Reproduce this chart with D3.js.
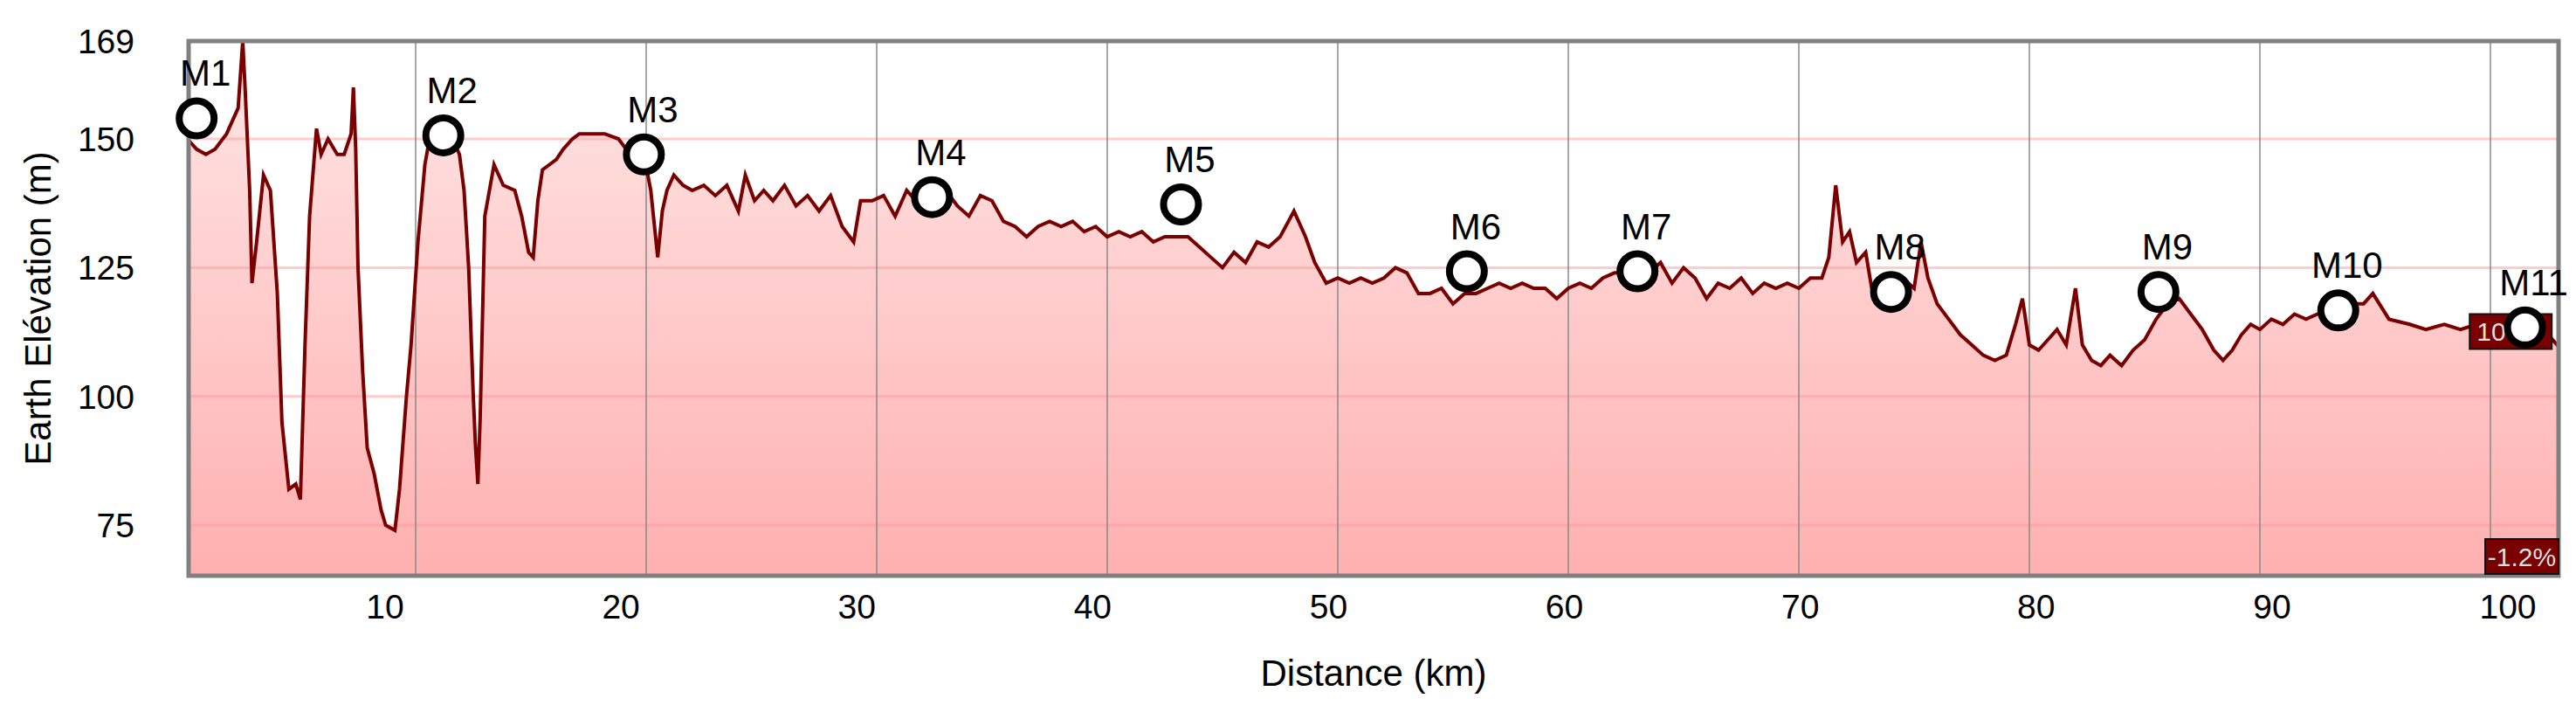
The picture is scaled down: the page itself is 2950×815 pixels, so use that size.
<!DOCTYPE html>
<html>
<head>
<meta charset="utf-8">
<script src="https://cdn.jsdelivr.net/npm/d3@7"></script>
<style>
  body { margin: 0; background: #fff; }
  text { font-family: Arial, "Liberation Sans", sans-serif; }
</style>
</head>
<body>
<svg id="chart" width="2950" height="815"></svg>
<script>
// Elevation profile (km, m)
const distKm = [0.1,0.5,0.9,1.3,1.8,2.1,2.3,2.5,2.6,2.8,2.9,3.1,3.4,3.7,4.0,4.2,4.5,4.8,5.0,5.2,5.4,5.7,5.9,6.2,6.6,6.9,7.2,7.3,7.4,7.5,7.7,7.9,8.2,8.5,8.7,9.1,9.3,9.6,9.8,10.1,10.4,10.6,11.0,11.4,11.6,11.9,12.1,12.3,12.5,12.6,12.7,12.8,13.0,13.4,13.8,14.3,14.6,14.9,15.1,15.3,15.5,15.8,16.1,16.4,16.8,17.1,17.6,18.2,18.8,19.3,19.9,20.2,20.5,20.7,20.9,21.2,21.6,22.0,22.5,23.0,23.5,24.0,24.3,24.7,25.1,25.5,26.0,26.5,27.0,27.5,28.0,28.5,29.0,29.3,29.8,30.3,30.8,31.3,31.9,32.5,33.0,33.5,34.0,34.5,35.0,35.5,36.0,36.5,37.0,37.5,38.0,38.5,39.0,39.5,40.0,40.5,41.0,41.5,42.0,42.5,43.0,43.5,44.0,44.5,45.0,45.5,46.0,46.5,47.0,47.5,48.1,48.6,49.0,49.5,50.0,50.5,51.0,51.5,52.0,52.5,53.0,53.5,54.0,54.5,55.0,55.5,56.0,56.5,57.0,57.5,58.0,58.5,59.0,59.5,60.0,60.5,61.0,61.5,62.0,62.5,63.0,63.5,64.0,64.5,65.0,65.5,66.0,66.5,67.0,67.5,68.0,68.5,69.0,69.5,70.0,70.5,71.0,71.3,71.6,71.9,72.2,72.5,72.9,73.2,73.6,74.0,74.5,75.0,75.3,75.6,76.0,76.5,77.0,77.5,78.0,78.5,79.0,79.4,79.7,80.0,80.4,80.8,81.2,81.6,82.0,82.3,82.7,83.1,83.5,84.0,84.5,85.0,85.5,86.0,86.5,87.0,87.5,88.0,88.4,88.8,89.2,89.6,90.0,90.5,91.0,91.5,92.0,92.5,93.0,93.5,94.0,94.5,94.9,95.6,96.5,97.2,98.0,98.7,99.4,100.2,100.6,101.2,101.8,102.5,103.1,103.7];
const elevM = [150,148,147,148,151,154,156,169,160,140,122,130,143,140,120,95,82,83,80,110,135,152,147,150,147,147,151,160,148,125,105,90,85,78,75,74,82,100,110,130,145,150,151,150,150,147,140,125,100,90,83,96,135,145,141,140,135,128,127,138,144,145,146,148,150,151,151,151,150,147,147,140,127,136,140,143,141,140,141,139,141,136,143,138,140,138,141,137,139,136,139,133,130,138,138,139,135,140,137,138,140,137,135,139,138,134,133,131,133,134,133,134,132,133,131,132,131,132,130,131,131,131,129,127,125,128,126,130,129,131,136,131,126,122,123,122,123,122,123,125,124,120,120,121,118,120,120,121,122,121,122,121,121,119,121,122,121,123,124,124,125,124,126,122,125,123,119,122,121,123,120,122,121,122,121,123,123,127,141,130,132,126,128,120,120,119,123,121,130,123,118,115,112,110,108,107,108,114,119,110,109,111,113,110,121,110,107,106,108,106,109,111,115,118,119,116,113,109,107,109,112,114,113,115,114,116,115,116,116,117,118,118,120,115,114,113,114,113,114,114,115,114,113,112,109,107];

// Markers
const markerNames = ["M1","M2","M3","M4","M5","M6","M7","M8","M9","M10","M11"];
const markerKm = [0.5,11.2,19.9,32.4,43.2,55.6,63.0,74.0,85.6,93.4,101.5];
const markerElev = [154,150.7,147,138.7,137.3,124.3,124.3,120.3,120.3,116.7,113.4];

const xTicks = [10,20,30,40,50,60,70,80,90,100];
const yTicks = [75,100,125,150,169];

const margin = { left: 216, right: 20, top: 47, bottom: 156 };
const W = 2950, H = 815;
const iw = W - margin.left - margin.right;
const ih = H - margin.top - margin.bottom;

const svg = d3.select('#chart');
const g = svg.append('g').attr('transform', `translate(${margin.left},${margin.top})`);

// grid/data scale and the (slightly differently spaced) tick-label scale
const x = d3.scaleLinear().domain([10, 100]).range([260, 2636]);
const xLab = d3.scaleLinear().domain([10, 100]).range([225, 2656]);
const y = d3.scaleLinear().domain([65.2, 169]).range([ih, 0]);

const defs = svg.append('defs');
const grad = defs.append('linearGradient').attr('id', 'fillGrad')
    .attr('x1', 0).attr('y1', 0).attr('x2', 0).attr('y2', 1);
grad.append('stop').attr('offset', '0%').attr('stop-color', '#ffe6e6');
grad.append('stop').attr('offset', '100%').attr('stop-color', '#ffb0b0');
defs.append('clipPath').attr('id', 'clip').append('rect').attr('width', iw).attr('height', ih);

const pts = distKm.map((d, i) => [d, elevM[i]]);

const plot = g.append('g').attr('clip-path', 'url(#clip)');

// area under profile
plot.append('path')
    .datum(pts)
    .attr('fill', 'url(#fillGrad)')
    .attr('d', d3.area().x(d => x(d[0])).y0(ih).y1(d => y(d[1])));

// horizontal grid (pink)
plot.selectAll('.hgrid')
    .data(yTicks.filter(t => t !== 169))
    .enter().append('line')
    .attr('x1', 0).attr('x2', iw)
    .attr('y1', d => y(d)).attr('y2', d => y(d))
    .attr('stroke', '#ff9a9a').attr('stroke-opacity', 0.5).attr('stroke-width', 3);

// vertical grid (gray)
plot.selectAll('.vgrid')
    .data(xTicks)
    .enter().append('line')
    .attr('x1', d => x(d)).attr('x2', d => x(d))
    .attr('y1', 0).attr('y2', ih)
    .attr('stroke', '#888').attr('stroke-opacity', 0.75).attr('stroke-width', 2);

// profile line
plot.append('path')
    .datum(pts)
    .attr('fill', 'none')
    .attr('stroke', '#7a0000')
    .attr('stroke-width', 4)
    .attr('d', d3.line().x(d => x(d[0])).y(d => y(d[1])));

// border
g.append('rect').attr('width', iw).attr('height', ih)
    .attr('fill', 'none').attr('stroke', '#808080').attr('stroke-width', 5);

// y tick labels
g.selectAll('.ylab')
    .data(yTicks)
    .enter().append('text')
    .attr('x', -62).attr('y', d => y(d))
    .attr('dy', '0.36em')
    .attr('text-anchor', 'end')
    .attr('font-size', 39)
    .text(d => d);

// x tick labels
g.selectAll('.xlab')
    .data(xTicks)
    .enter().append('text')
    .attr('x', d => xLab(d))
    .attr('y', ih + 49)
    .attr('text-anchor', 'middle')
    .attr('font-size', 39)
    .text(d => d);

// axis titles
svg.append('text')
    .attr('x', margin.left + iw / 2).attr('y', 785)
    .attr('text-anchor', 'middle').attr('font-size', 42)
    .text('Distance (km)');
svg.append('text')
    .attr('transform', `translate(58,${margin.top + ih / 2}) rotate(-90)`)
    .attr('text-anchor', 'middle').attr('font-size', 42)
    .text('Earth Elévation (m)');

// end value badges
const endBadge = g.append('g').attr('transform', `translate(${x(99.1)},${y(116)})`);
endBadge.append('rect').attr('width', 94).attr('height', 40).attr('fill', '#7a0000').attr('stroke', '#111').attr('stroke-width', 2);
endBadge.append('text').attr('x', 8).attr('y', 31).attr('font-size', 30).attr('fill', '#ddd').text('108');

const pctBadge = g.append('g').attr('transform', `translate(${iw - 84},${ih - 42})`);
pctBadge.append('rect').attr('width', 84).attr('height', 40).attr('fill', '#7a0000').attr('stroke', '#111').attr('stroke-width', 2);
pctBadge.append('text').attr('x', 42).attr('y', 31).attr('text-anchor', 'middle').attr('font-size', 30).attr('fill', '#ddd').text('-1.2%');

// markers
const mk = g.selectAll('.marker')
    .data(markerNames.map((n, i) => ({ name: n, km: markerKm[i], el: markerElev[i] })))
    .enter().append('g')
    .attr('transform', d => `translate(${x(d.km)},${y(d.el)})`);
mk.append('circle').attr('r', 20).attr('fill', '#fff').attr('stroke', '#000').attr('stroke-width', 8);
mk.append('text').attr('x', 10).attr('y', -37).attr('text-anchor', 'middle')
    .attr('font-size', 42).text(d => d.name);
</script>
</body>
</html>
